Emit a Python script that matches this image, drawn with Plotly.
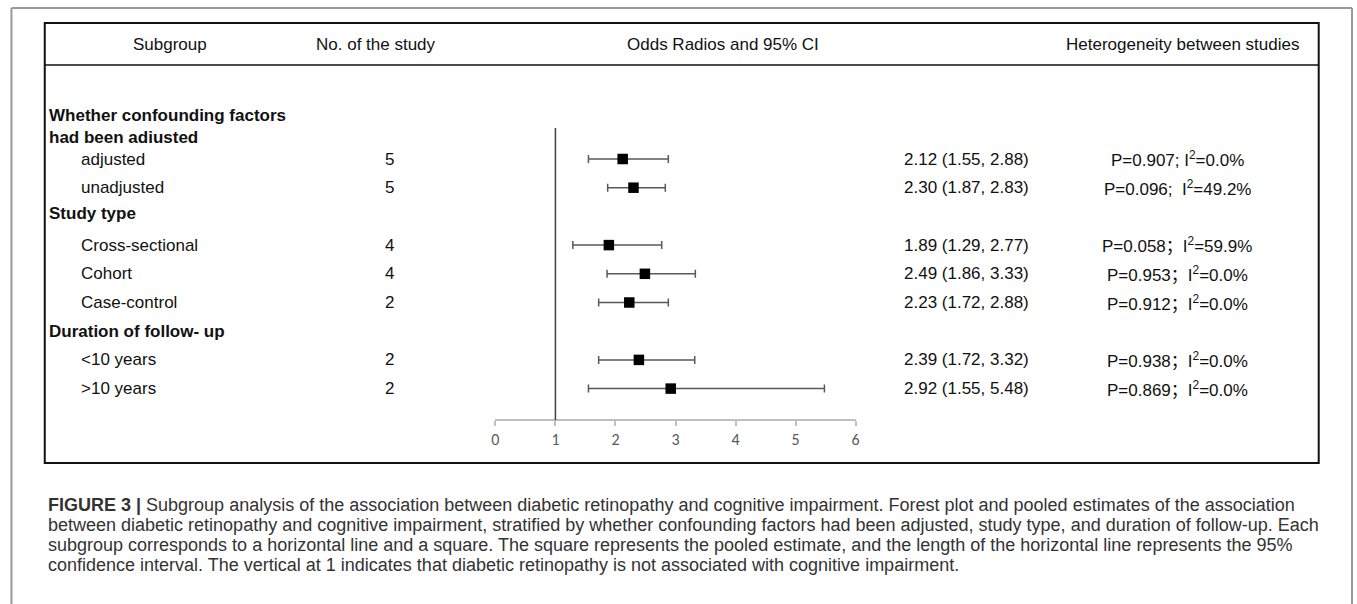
import plotly.graph_objects as go

W, H = 1357, 604

# ---------------- data ----------------
group_labels = ["Whether confounding factors<br>had been adiusted", "Study type", "Duration of follow- up"]
group_slots = [-1.13, 1.9, 6.0]
subgroups = ["adjusted", "unadjusted", "Cross-sectional", "Cohort", "Case-control", "&lt;10 years", "&gt;10 years"]
sub_slots = [0, 1, 3, 4, 5, 7, 8]
n_studies = [5, 5, 4, 4, 2, 2, 2]
or_vals = [2.12, 2.30, 1.89, 2.49, 2.23, 2.39, 2.92]
ci_low = [1.55, 1.87, 1.29, 1.86, 1.72, 1.72, 1.55]
ci_high = [2.88, 2.83, 2.77, 3.33, 2.88, 3.32, 5.48]
p_het = ["0.907", "0.096", "0.058", "0.953", "0.912", "0.938", "0.869"]
i2_het = ["0.0", "49.2", "59.9", "0.0", "0.0", "0.0", "0.0"]
sep = ["; ", ";  ", "；", "；", "；", "；", "；"]
x_ticks = [0, 1, 2, 3, 4, 5, 6]
headers = ["Subgroup", "No. of the study", "Odds Radios and 95% CI", "Heterogeneity between studies"]
caption_lines = [
    "<b>FIGURE 3 |</b> Subgroup analysis of the association between diabetic retinopathy and cognitive impairment. Forest plot and pooled estimates of the association",
    "between diabetic retinopathy and cognitive impairment, stratified by whether confounding factors had been adjusted, study type, and duration of follow-up. Each",
    "subgroup corresponds to a horizontal line and a square. The square represents the pooled estimate, and the length of the horizontal line represents the 95%",
    "confidence interval. The vertical at 1 indicates that diabetic retinopathy is not associated with cognitive impairment.",
]

# ---------------- helpers (pixel -> paper) ----------------
def px(x):
    return x / W

def py(y):
    return 1 - y / H

# slot -> pixel mapping: pixel = 159 + slot*28.7
S0, DS = 159.0, 28.7
y_range = [(H - S0) / DS, (0 - S0) / DS]

FONT = "Liberation Sans, Arial, Noto Sans CJK SC, sans-serif"

fig = go.Figure()
fig.add_trace(go.Scatter(
    x=or_vals, y=sub_slots, mode="markers",
    marker=dict(symbol="square", size=10.5, color="black"),
    error_x=dict(type="data", symmetric=False,
                 array=[h - o for h, o in zip(ci_high, or_vals)],
                 arrayminus=[o - l for o, l in zip(or_vals, ci_low)],
                 color="#595959", thickness=1.5, width=4),
    showlegend=False, hoverinfo="skip",
))

ann = []
# headers
for txt, cx in zip(headers, [167, 374, 723, 1185]):
    ann.append(dict(text=txt, x=px(cx), y=py(44), xref="paper", yref="paper",
                    xanchor="center", yanchor="middle", showarrow=False,
                    font=dict(family=FONT, size=17, color="#111")))
# group labels
for txt, s in zip(group_labels, group_slots):
    ann.append(dict(text="<b>" + txt.replace("<br>", "</b><br><b>") + "</b>", x=px(43), y=s,
                    xref="paper", yref="y", xanchor="left", yanchor="middle",
                    align="left", showarrow=False,
                    font=dict(family=FONT, size=17, color="#111")))
# rows
for i, s in enumerate(sub_slots):
    ann.append(dict(text=subgroups[i], x=px(75), y=s, xref="paper", yref="y",
                    xanchor="left", yanchor="middle", showarrow=False,
                    font=dict(family=FONT, size=17, color="#111")))
    ann.append(dict(text=str(n_studies[i]), x=px(388), y=s, xref="paper", yref="y",
                    xanchor="center", yanchor="middle", showarrow=False,
                    font=dict(family=FONT, size=17, color="#111")))
    ann.append(dict(text=f"{or_vals[i]:.2f} ({ci_low[i]:.2f}, {ci_high[i]:.2f})",
                    x=px(903), y=s, xref="paper", yref="y",
                    xanchor="left", yanchor="middle", showarrow=False,
                    font=dict(family=FONT, size=17, color="#111")))
    ann.append(dict(text=f"P={p_het[i]}{sep[i]}I<sup>2</sup>={i2_het[i]}%",
                    x=px(1180), y=s, xref="paper", yref="y",
                    xanchor="center", yanchor="middle", showarrow=False,
                    font=dict(family=FONT, size=17, color="#111")))
# caption
for k, line in enumerate(caption_lines):
    ann.append(dict(text=line, x=px(42), y=py(504.5 + k * 20.2), xref="paper", yref="paper",
                    xanchor="left", yanchor="middle", showarrow=False, align="left",
                    font=dict(family="Liberation Sans, Arial, sans-serif",
                              size=18, color="#333")))

shapes = [
    # outer frame
    dict(type="line", xref="paper", yref="paper", x0=px(7.5), x1=px(1356), y0=py(8), y1=py(8),
         line=dict(color="#333", width=1)),
    dict(type="line", xref="paper", yref="paper", x0=px(7.5), x1=px(7.5), y0=py(8), y1=py(604),
         line=dict(color="#999", width=2)),
    dict(type="line", xref="paper", yref="paper", x0=px(1356), x1=px(1356), y0=py(8), y1=py(604),
         line=dict(color="#999", width=2)),
    # inner box
    dict(type="rect", xref="paper", yref="paper", x0=px(41), x1=px(1322.5), y0=py(23), y1=py(463),
         line=dict(color="#111", width=2)),
    dict(type="line", xref="paper", yref="paper", x0=px(41), x1=px(1322.5), y0=py(65), y1=py(65),
         line=dict(color="#111", width=1.5)),
    # reference line at OR = 1
    dict(type="line", xref="x", yref="paper", x0=1, x1=1, y0=py(420), y1=py(128),
         line=dict(color="#404040", width=1.5)),
]

fig.update_layout(
    width=W, height=H, margin=dict(l=0, r=0, t=0, b=0),
    paper_bgcolor="white", plot_bgcolor="rgba(0,0,0,0)",
    xaxis=dict(domain=[px(494.3), px(856.7)], range=[0, 6], anchor="free", position=py(420),
               tickvals=x_ticks, showgrid=False, zeroline=False,
               showline=True, linecolor="#bfbfbf", linewidth=1.5,
               ticks="outside", ticklen=5, tickcolor="#bfbfbf", tickwidth=1.5,
               tickfont=dict(family="Carlito, Lato, sans-serif", size=16, color="#595959")),
    yaxis=dict(domain=[0, 1], range=y_range, visible=False, showgrid=False, zeroline=False),
    annotations=ann, shapes=shapes,
)

fig.write_html("out.html", config={"displayModeBar": False},
               post_script="document.body.style.margin='0';document.body.style.overflow='hidden';")
